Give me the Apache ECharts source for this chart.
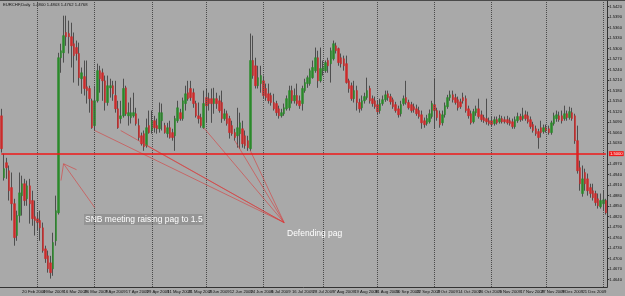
<!DOCTYPE html>
<html><head><meta charset="utf-8">
<script src="https://cdn.jsdelivr.net/npm/echarts@6/dist/echarts.min.js"></script>
<style>html,body{margin:0;padding:0;background:#a9a9a9}#c{width:625px;height:296px}</style>
</head><body><div id="c"></div>
<script>
// tick labels, one every 8 daily bars starting at bar 0 (10 Feb 2009)
const tickLabels = ['10 Feb 2009','20 Feb 2009','4 Mar 2009','16 Mar 2009','26 Mar 2009','7 Apr 2009','17 Apr 2009','29 Apr 2009','11 May 2009','21 May 2009','2 Jun 2009','12 Jun 2009','24 Jun 2009','6 Jul 2009','16 Jul 2009','28 Jul 2009','7 Aug 2009','19 Aug 2009','31 Aug 2009','10 Sep 2009','22 Sep 2009','2 Oct 2009','14 Oct 2009','26 Oct 2009','5 Nov 2009','17 Nov 2009','27 Nov 2009','9 Dec 2009','21 Dec 2009','4 Jan 2010'];
// bar index of first trading day of each month (period separators)
const monthStarts = [14,36,58,79,101,124,145,167,189,210,232];
const priceLabels = [1.542,1.539,1.536,1.533,1.530,1.527,1.524,1.521,1.518,1.515,1.512,1.509,1.506,1.503,1.497,1.494,1.491,1.488,1.485,1.482,1.479,1.476,1.473,1.470,1.467,1.464];
const pegLevel = 1.5000;

const open = [
1.5108,1.4931,1.4974,1.4951,1.4903,1.4857,1.4766,1.4823,1.4880,1.4914,1.4871,1.4908,1.4866,1.4820,
1.4814,1.4809,1.4788,1.4728,1.4708,1.4688,1.4671,1.4751,1.4831,1.5274,1.5288,1.5346,1.5343,1.5334,1.5314,1.5303,1.5286,1.5214,1.5220,1.5191,1.5186,1.5151,
1.5080,1.5151,1.5237,1.5231,1.5208,1.5146,1.5188,1.5194,1.5166,1.5128,1.5100,1.5108,1.5188,1.5108,1.5103,1.5108,1.5114,1.5080,1.5051,1.5057,1.5023,1.5080,
1.5066,1.5094,1.5080,1.5071,1.5094,1.5080,1.5057,1.5074,1.5060,1.5051,1.5094,1.5117,1.5100,1.5143,1.5174,1.5186,1.5174,1.5143,1.5108,1.5103,1.5074,
1.5160,1.5157,1.5157,1.5143,1.5157,1.5151,1.5146,1.5100,1.5114,1.5100,1.5080,1.5060,1.5051,1.5057,1.5071,1.5051,1.5037,1.5014,1.5266,1.5251,1.5194,1.5200,
1.5208,1.5186,1.5171,1.5166,1.5146,1.5143,1.5128,1.5108,1.5114,1.5128,1.5131,1.5180,1.5151,1.5166,1.5151,1.5143,1.5180,1.5200,1.5200,1.5217,1.5237,1.5274,1.5208,
1.5237,1.5237,1.5266,1.5257,1.5271,1.5308,1.5300,1.5274,1.5271,1.5257,1.5208,1.5194,1.5157,1.5180,1.5146,1.5131,1.5151,1.5160,1.5186,1.5157,1.5151,
1.5140,1.5123,1.5143,1.5154,1.5171,1.5163,1.5154,1.5140,1.5128,1.5114,1.5143,1.5160,1.5146,1.5140,1.5134,1.5128,1.5123,1.5111,1.5094,1.5086,1.5091,1.5106,
1.5140,1.5123,1.5114,1.5088,1.5111,1.5134,1.5160,1.5168,1.5160,1.5154,1.5148,1.5160,1.5157,1.5128,1.5114,1.5091,1.5117,1.5128,1.5111,1.5103,1.5100,1.5094,
1.5094,1.5086,1.5097,1.5091,1.5100,1.5097,1.5097,1.5094,1.5091,1.5077,1.5094,1.5106,1.5100,1.5111,1.5108,1.5097,1.5083,1.5071,1.5063,1.5074,1.5063,
1.5074,1.5071,1.5060,1.5086,1.5100,1.5108,1.5108,1.5100,1.5114,1.5103,1.5117,1.5108,1.5037,1.4960,1.4886,1.4946,1.4928,1.4903,1.4894,1.4886,1.4871,1.4848,
1.4857,1.4866];
const close = [
1.5014,1.4957,1.4960,1.4894,1.4857,1.4760,1.4823,1.4888,1.4914,1.4866,1.4908,1.4857,1.4814,1.4809,
1.4803,1.4788,1.4723,1.4700,1.4671,1.4660,1.4746,1.4837,1.5274,1.5294,1.5337,1.5334,1.5334,1.5308,1.5280,1.5286,1.5217,1.5231,1.5186,1.5180,1.5157,1.5074,
1.5151,1.5237,1.5214,1.5208,1.5146,1.5194,1.5194,1.5171,1.5128,1.5074,1.5108,1.5186,1.5114,1.5117,1.5117,1.5117,1.5086,1.5046,1.5028,1.5020,1.5074,1.5060,
1.5094,1.5074,1.5071,1.5117,1.5117,1.5060,1.5074,1.5046,1.5046,1.5100,1.5131,1.5100,1.5151,1.5171,1.5157,1.5160,1.5143,1.5108,1.5100,1.5080,1.5143,
1.5137,1.5143,1.5143,1.5157,1.5143,1.5123,1.5100,1.5114,1.5086,1.5060,1.5057,1.5046,1.5074,1.5088,1.5028,1.5023,1.5017,1.5266,1.5223,1.5194,1.5217,1.5223,
1.5166,1.5160,1.5151,1.5146,1.5128,1.5117,1.5108,1.5117,1.5131,1.5157,1.5180,1.5151,1.5166,1.5143,1.5137,1.5186,1.5203,1.5217,1.5237,1.5246,1.5274,1.5208,1.5243,
1.5246,1.5260,1.5251,1.5294,1.5314,1.5294,1.5260,1.5257,1.5251,1.5203,1.5186,1.5157,1.5180,1.5146,1.5128,1.5151,1.5163,1.5180,1.5151,1.5143,1.5134,
1.5120,1.5143,1.5154,1.5168,1.5160,1.5148,1.5134,1.5123,1.5111,1.5140,1.5157,1.5146,1.5131,1.5123,1.5126,1.5114,1.5106,1.5088,1.5083,1.5100,1.5114,1.5143,
1.5123,1.5103,1.5083,1.5111,1.5137,1.5160,1.5168,1.5154,1.5146,1.5131,1.5134,1.5151,1.5123,1.5108,1.5088,1.5120,1.5128,1.5106,1.5097,1.5094,1.5091,1.5086,
1.5083,1.5097,1.5088,1.5100,1.5091,1.5091,1.5088,1.5086,1.5077,1.5097,1.5106,1.5097,1.5108,1.5100,1.5091,1.5077,1.5066,1.5057,1.5046,1.5060,1.5074,
1.5066,1.5060,1.5088,1.5108,1.5111,1.5097,1.5094,1.5114,1.5103,1.5120,1.5100,1.5037,1.4951,1.4914,1.4928,1.4914,1.4894,1.4886,1.4874,1.4860,1.4851,1.4866,
1.4868,1.4831];
const low = [
1.5003,1.4923,1.4928,1.4866,1.4809,1.4737,1.4751,1.4803,1.4823,1.4851,1.4851,1.4800,1.4794,1.4766,
1.4780,1.4751,1.4717,1.4688,1.4660,1.4643,1.4651,1.4737,1.4826,1.5231,1.5260,1.5308,1.5286,1.5246,1.5203,1.5266,1.5194,1.5171,1.5166,1.5143,1.5117,1.5071,
1.5066,1.5146,1.5174,1.5151,1.5123,1.5137,1.5160,1.5151,1.5117,1.5071,1.5086,1.5103,1.5108,1.5080,1.5086,1.5103,1.5080,1.5037,1.5023,1.5008,1.5017,1.5057,
1.5057,1.5060,1.5057,1.5060,1.5066,1.5057,1.5046,1.5043,1.5037,1.5008,1.5088,1.5094,1.5094,1.5123,1.5151,1.5151,1.5131,1.5103,1.5086,1.5074,1.5071,
1.5088,1.5123,1.5088,1.5114,1.5128,1.5117,1.5088,1.5094,1.5080,1.5043,1.5051,1.5037,1.5017,1.5014,1.5017,1.5014,1.5008,1.5008,1.5214,1.5186,1.5186,1.5174,
1.5157,1.5151,1.5143,1.5137,1.5123,1.5108,1.5100,1.5103,1.5108,1.5123,1.5123,1.5143,1.5143,1.5137,1.5128,1.5123,1.5174,1.5188,1.5194,1.5214,1.5231,1.5188,1.5203,
1.5223,1.5231,1.5231,1.5203,1.5266,1.5286,1.5251,1.5246,1.5237,1.5200,1.5174,1.5151,1.5146,1.5123,1.5117,1.5123,1.5143,1.5154,1.5143,1.5134,1.5128,
1.5111,1.5114,1.5137,1.5148,1.5151,1.5140,1.5128,1.5117,1.5103,1.5106,1.5137,1.5140,1.5126,1.5117,1.5117,1.5108,1.5100,1.5071,1.5074,1.5080,1.5086,1.5100,
1.5071,1.5094,1.5074,1.5080,1.5103,1.5128,1.5151,1.5146,1.5140,1.5123,1.5128,1.5143,1.5117,1.5100,1.5083,1.5086,1.5108,1.5100,1.5091,1.5088,1.5083,1.5080,
1.5077,1.5080,1.5083,1.5086,1.5086,1.5086,1.5083,1.5080,1.5071,1.5071,1.5088,1.5091,1.5094,1.5094,1.5086,1.5071,1.5060,1.5051,1.5014,1.5046,1.5057,
1.5060,1.5054,1.5054,1.5080,1.5091,1.5091,1.5086,1.5094,1.5094,1.5097,1.5094,1.5028,1.4943,1.4894,1.4877,1.4894,1.4880,1.4874,1.4866,1.4851,1.4843,1.4843,
1.4837,1.4826];
const high = [
1.5128,1.5000,1.4988,1.4966,1.4946,1.4871,1.4837,1.4946,1.4937,1.4928,1.4923,1.4928,1.4894,1.4866,
1.4831,1.4837,1.4803,1.4737,1.4723,1.4708,1.4774,1.4880,1.5288,1.5314,1.5394,1.5394,1.5380,1.5374,1.5346,1.5323,1.5317,1.5246,1.5266,1.5266,1.5194,1.5157,
1.5194,1.5257,1.5251,1.5243,1.5223,1.5223,1.5214,1.5208,1.5208,1.5151,1.5151,1.5214,1.5194,1.5146,1.5160,1.5174,1.5131,1.5100,1.5060,1.5066,1.5100,1.5123,
1.5123,1.5108,1.5100,1.5146,1.5143,1.5088,1.5088,1.5094,1.5071,1.5108,1.5151,1.5128,1.5160,1.5194,1.5208,1.5208,1.5186,1.5151,1.5146,1.5114,1.5180,
1.5186,1.5174,1.5186,1.5188,1.5174,1.5166,1.5180,1.5128,1.5123,1.5108,1.5094,1.5071,1.5131,1.5117,1.5094,1.5066,1.5051,1.5343,1.5337,1.5274,1.5251,1.5251,
1.5223,1.5200,1.5200,1.5174,1.5171,1.5151,1.5137,1.5128,1.5143,1.5166,1.5194,1.5194,1.5186,1.5200,1.5166,1.5194,1.5214,1.5223,1.5243,1.5266,1.5303,1.5294,1.5303,
1.5266,1.5266,1.5274,1.5303,1.5323,1.5317,1.5303,1.5286,1.5280,1.5280,1.5214,1.5203,1.5208,1.5194,1.5157,1.5166,1.5174,1.5217,1.5194,1.5166,1.5163,
1.5151,1.5157,1.5166,1.5180,1.5180,1.5171,1.5160,1.5148,1.5137,1.5151,1.5166,1.5208,1.5154,1.5148,1.5143,1.5140,1.5134,1.5123,1.5103,1.5111,1.5126,1.5151,
1.5214,1.5131,1.5123,1.5123,1.5146,1.5168,1.5180,1.5180,1.5171,1.5163,1.5157,1.5174,1.5166,1.5137,1.5123,1.5128,1.5137,1.5157,1.5123,1.5111,1.5157,1.5103,
1.5106,1.5106,1.5106,1.5111,1.5108,1.5106,1.5108,1.5103,1.5100,1.5106,1.5117,1.5114,1.5131,1.5123,1.5120,1.5106,1.5091,1.5080,1.5071,1.5094,1.5083,
1.5083,1.5080,1.5094,1.5117,1.5123,1.5120,1.5123,1.5137,1.5123,1.5134,1.5131,1.5114,1.5080,1.4980,1.4966,1.4957,1.4943,1.4914,1.4914,1.4894,1.4886,1.4886,
1.4894,1.4871];

const categories = open.map((_, i) => String(i));
const ohlc = open.map((o, i) => [o, close[i], low[i], high[i]]);
const bodies = open.map((o, i) => [o, close[i], Math.min(o, close[i]), Math.max(o, close[i])]);

const red = '#f01818';
const seg = (i1, p1, i2, p2) => [{coord: [String(i1), p1]}, {coord: [String(i2), p2]}];
const last = open.length - 1;

const chart = echarts.init(document.getElementById('c'), null, {renderer: 'canvas'});
chart.setOption({
  animation: false,
  backgroundColor: '#a9a9a9',
  grid: {left: -1.9, right: 14, top: 1, bottom: 9},
  xAxis: {
    type: 'category', data: categories, boundaryGap: true,
    axisLine: {onZero: false, lineStyle: {color: '#333', width: 1}},
    axisTick: {interval: (i) => i % 8 === 0, alignWithLabel: true, length: 3, lineStyle: {color: '#333'}},
    axisLabel: {interval: (i) => i % 8 === 0, formatter: (v, i) => tickLabels[i / 8] || '', align: 'left', fontSize: 4.2, color: '#111', margin: 2.5, fontFamily: 'Liberation Sans'},
    splitLine: {show: false}
  },
  yAxis: {
    type: 'value', position: 'right', min: 1.4619, max: 1.5436, scale: true,
    axisLine: {show: true, lineStyle: {color: '#333', width: 1}},
    axisTick: {show: true, customValues: priceLabels, length: 2, lineStyle: {color: '#333'}},
    axisLabel: {customValues: priceLabels, formatter: (v) => v.toFixed(4), fontSize: 4.2, color: '#111', margin: 2, fontFamily: 'Liberation Sans'},
    splitLine: {show: false}
  },
  series: [
    {
      type: 'candlestick', name: 'wick', data: ohlc, barWidth: 1, z: 2,
      itemStyle: {color: '#4e4e4e', color0: '#4e4e4e', borderColor: '#4e4e4e', borderColor0: '#4e4e4e', borderWidth: 1},
      markLine: {
        silent: true, symbol: 'none', animation: false,
        lineStyle: {color: '#4a4a4a', type: [1, 1], width: 1}, label: {show: false},
        data: monthStarts.map((m) => ({xAxis: String(m)}))
      }
    },
    {
      type: 'candlestick', name: 'body', data: bodies, barWidth: 2, z: 3,
      itemStyle: {color: '#2a8a2a', color0: '#cc2a2a', borderColor: '#2a8a2a', borderColor0: '#cc2a2a', borderWidth: 0.5},
      markLine: {
        silent: true, symbol: 'none', animation: false,
        lineStyle: {color: '#d83a3a', type: 'solid', width: 0.6}, label: {show: false},
        data: [
          seg(36, 1.4846, 24, 1.4971),
          seg(24, 1.4971, 29, 1.4954),
          seg(24, 1.4971, 23, 1.4923),
          seg(36, 1.5066, 109, 1.4803),
          seg(46, 1.5066, 109, 1.4803),
          seg(56, 1.5023, 109, 1.4803),
          seg(78, 1.5074, 109, 1.4803),
          seg(90, 1.5037, 109, 1.4803),
          seg(96, 1.5008, 109, 1.4803)
        ]
      }
    },
    {
      type: 'candlestick', name: 'peg', data: [], z: 5,
      markLine: {
        silent: true, symbol: 'none', animation: false,
        lineStyle: {color: red, type: 'solid', width: 1.6, opacity: 1},
        label: {show: false},
        data: [
          [{coord: ['0', pegLevel]},
           {coord: [String(last), pegLevel],
            label: {show: true, position: 'end', formatter: pegLevel.toFixed(4), backgroundColor: red, color: '#fff', fontSize: 4.2, padding: [1, 1, 0, 1], distance: 3, fontFamily: 'Liberation Sans'}}]
        ]
      }
    }
  ],
  graphic: [
    {type: 'rect', left: 0, top: 0, shape: {width: 625, height: 1}, style: {fill: '#4a4a4a'}, silent: true},
    {type: 'text', left: 3, top: 2.5, style: {text: 'EURCHF,Daily  1.4800 1.4803 1.4762 1.4768', fill: '#111', font: '4.2px "Liberation Sans"'}, silent: true},
    {type: 'text', left: 84, top: 214, style: {text: 'SNB meeting raising pag to 1.5', fill: '#ffffff', font: '8.5px "Liberation Sans"', backgroundColor: '#959595', padding: [1, 1, 1, 1]}, silent: true},
    {type: 'text', left: 287, top: 229, style: {text: 'Defending pag', fill: '#ffffff', font: '8.5px "Liberation Sans"'}, silent: true}
  ]
});
</script>
</body></html>
